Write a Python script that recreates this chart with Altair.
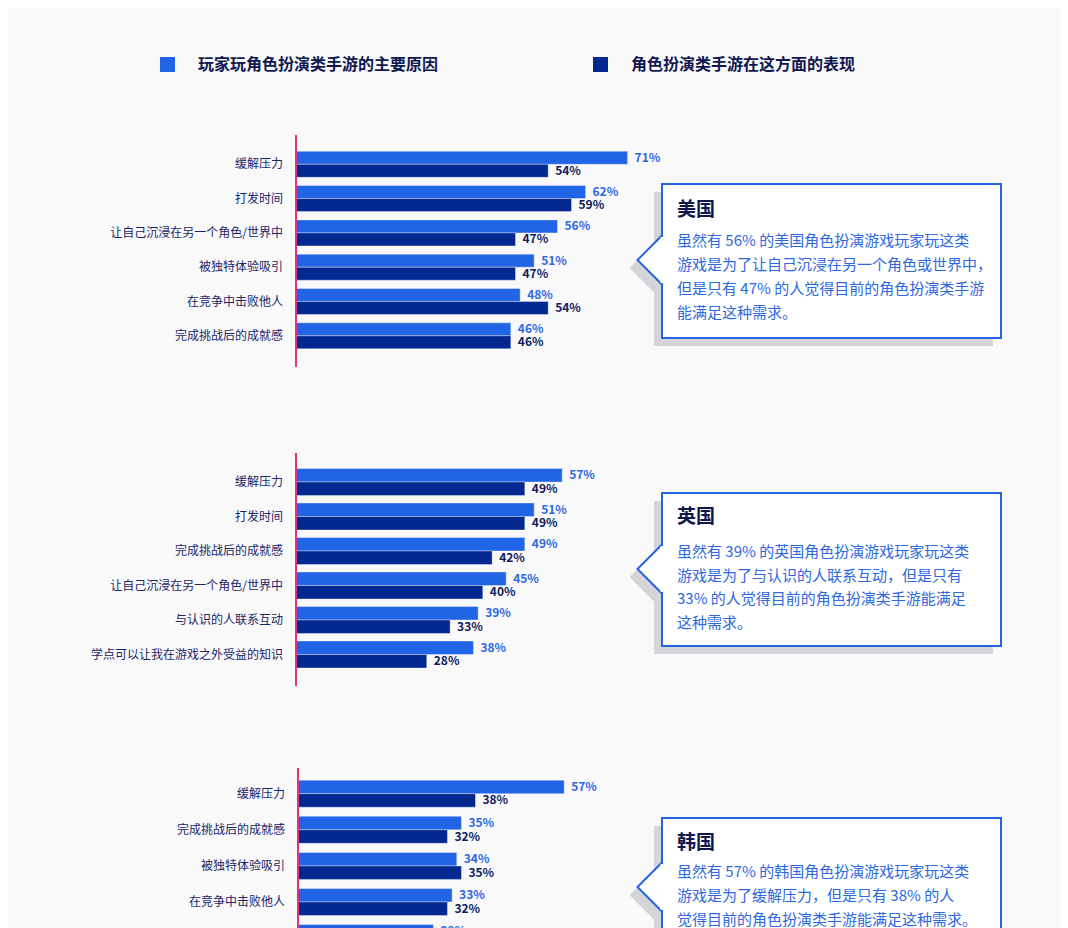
import altair as alt
import pandas as pd

FONT = "Noto Sans CJK SC"

SERIES = ["玩家玩角色扮演类手游的主要原因", "角色扮演类手游在这方面的表现"]
BAR_COLORS = ["#2264e6", "#03288f"]
VALUE_COLORS = ["#2d68e3", "#0e1b5c"]
LABEL_COLOR = "#1b2566"
TITLE_COLOR = "#0f174f"
NOTE_COLOR = "#2d68e0"
BOX_COLOR = "#2563e0"
SHADOW = "#d4d5d8"
PINK = "#e5307f"
BG = "#f9f9fa"

US_CATS = ["缓解压力", "打发时间", "让自己沉浸在另一个角色/世界中", "被独特体验吸引", "在竞争中击败他人", "完成挑战后的成就感"]
US_REASON = [71, 62, 56, 51, 48, 46]
US_PERF = [54, 59, 47, 47, 54, 46]
US_TITLE = "美国"
US_NOTE = ["虽然有 56% 的美国角色扮演游戏玩家玩这类",
           "游戏是为了让自己沉浸在另一个角色或世界中，",
           "但是只有 47% 的人觉得目前的角色扮演类手游",
           "能满足这种需求。"]

UK_CATS = ["缓解压力", "打发时间", "完成挑战后的成就感", "让自己沉浸在另一个角色/世界中", "与认识的人联系互动", "学点可以让我在游戏之外受益的知识"]
UK_REASON = [57, 51, 49, 45, 39, 38]
UK_PERF = [49, 49, 42, 40, 33, 28]
UK_TITLE = "英国"
UK_NOTE = ["虽然有 39% 的英国角色扮演游戏玩家玩这类",
           "游戏是为了与认识的人联系互动，但是只有",
           "33% 的人觉得目前的角色扮演类手游能满足",
           "这种需求。"]

KR_CATS = ["缓解压力", "完成挑战后的成就感", "被独特体验吸引", "在竞争中击败他人", "打发时间"]
KR_REASON = [57, 35, 34, 33, 29]
KR_PERF = [38, 32, 35, 32, 27]
KR_TITLE = "韩国"
KR_NOTE = ["虽然有 57% 的韩国角色扮演游戏玩家玩这类",
           "游戏是为了缓解压力，但是只有 38% 的人",
           "觉得目前的角色扮演类手游能满足这种需求。"]

W = 1052
PX_PER_PCT = 4.67


def panel(cats, reason, perf, title, note, first_c, step, bw, axis_len, zero_px,
          box_top, box_bottom, ptr_c, title_y, body_y, line_h):
    rows = []
    for c, a, b in zip(cats, reason, perf):
        rows.append({"cat": c, "series": SERIES[0], "value": a, "lab": f"{a}%", "zero": 0})
        rows.append({"cat": c, "series": SERIES[1], "value": b, "lab": f"{b}%", "zero": 0})
    df = pd.DataFrame(rows)
    n = len(cats)
    p_inner = 1 - bw / step
    p_outer = first_c / step - bw / (2 * step)
    height = step * (n - p_inner + 2 * p_outer)
    half = bw / 2

    xscale = alt.Scale(domain=[-zero_px / PX_PER_PCT, (W - zero_px) / PX_PER_PCT], nice=False, zero=False)
    yenc = alt.Y("cat:N", sort=cats, axis=None,
                 scale=alt.Scale(paddingInner=p_inner, paddingOuter=p_outer))

    base = alt.Chart(df)
    layers = []
    for i, s in enumerate(SERIES):
        off = (-half / 2) if i == 0 else (half / 2)
        sub = base.transform_filter(alt.datum.series == s)
        layers.append(sub.mark_bar(height=half, yOffset=off, color=BAR_COLORS[i],
                                   stroke="white", strokeWidth=0.8, strokeOpacity=0.45).encode(
            x=alt.X("value:Q", scale=xscale, axis=None), y=yenc))
        layers.append(sub.mark_text(align="left", baseline="middle", dx=7, yOffset=off, font=FONT,
                                    fontSize=12, fontWeight="bold", color=VALUE_COLORS[i]).encode(
            x=alt.X("value:Q", scale=xscale, axis=None), y=yenc, text="lab:N"))
    first = base.transform_filter(alt.datum.series == SERIES[0])
    layers.append(first.mark_text(
        align="right", baseline="middle", dx=-13, font=FONT, fontSize=12, color=LABEL_COLOR
    ).encode(x=alt.X("zero:Q", scale=xscale, axis=None), y=yenc, text="cat:N"))
    layers.append(first.mark_rule(color=PINK, strokeWidth=1.5).encode(
        x=alt.X("zero:Q", scale=xscale, axis=None), y=alt.value(0), y2=alt.value(axis_len)))

    one = pd.DataFrame({"t": [title]})
    bx, bx2 = 654, 993
    dsize = 49 ** 2
    layers.append(alt.Chart(one).mark_rect(fill=SHADOW).encode(
        x=alt.value(bx - 8), x2=alt.value(bx2 - 8), y=alt.value(box_top + 8), y2=alt.value(box_bottom + 8)))
    layers.append(alt.Chart(one).mark_point(shape="diamond", size=dsize, filled=True, color=SHADOW,
                                            opacity=1).encode(
        x=alt.value(bx - 8), y=alt.value(ptr_c + 8)))
    layers.append(alt.Chart(one).mark_point(shape="diamond", size=dsize, filled=False, color=BOX_COLOR,
                                            fill="white", fillOpacity=1, strokeWidth=2,
                                            opacity=1).encode(
        x=alt.value(bx), y=alt.value(ptr_c)))
    layers.append(alt.Chart(one).mark_rect(fill="white", stroke=BOX_COLOR, strokeWidth=2).encode(
        x=alt.value(bx), x2=alt.value(bx2), y=alt.value(box_top), y2=alt.value(box_bottom)))
    layers.append(alt.Chart(one).mark_rect(fill="white").encode(
        x=alt.value(bx - 1.5), x2=alt.value(bx + 2), y=alt.value(ptr_c - 23), y2=alt.value(ptr_c + 23)))
    layers.append(alt.Chart(one).mark_text(align="left", baseline="middle", font=FONT, fontSize=19,
                                           fontWeight="bold", color=TITLE_COLOR).encode(
        x=alt.value(669), y=alt.value(title_y), text="t:N"))
    for i, line in enumerate(note):
        layers.append(
            alt.Chart(pd.DataFrame({"t": [line]})).mark_text(
                align="left", baseline="middle", font=FONT, fontSize=15, color=NOTE_COLOR
            ).encode(x=alt.value(669), y=alt.value(body_y + i * line_h), text="t:N")
        )
    return alt.layer(*layers).properties(width=W, height=height)


leg_layers = []
for i, (sx, tx) in enumerate([(152, 190), (585, 623)]):
    d = pd.DataFrame({"series": [SERIES[i]]})
    leg_layers.append(alt.Chart(d).mark_rect(fill=BAR_COLORS[i]).encode(
        x=alt.value(sx), x2=alt.value(sx + 15), y=alt.value(49), y2=alt.value(64)))
    leg_layers.append(alt.Chart(d).mark_text(
        align="left", baseline="middle", font=FONT, fontSize=16, fontWeight="bold", color=TITLE_COLOR
    ).encode(x=alt.value(tx), y=alt.value(57), text="series:N"))
legend = alt.layer(*leg_layers).properties(width=W, height=126)

us = panel(US_CATS, US_REASON, US_PERF, US_TITLE, US_NOTE, 29.3, 34.3, 26, 232, 288,
           49, 203, 125, 75, 106, 24)
uk = panel(UK_CATS, UK_REASON, UK_PERF, UK_TITLE, UK_NOTE, 29, 34.5, 27, 233, 288,
           40, 193, 116, 64, 99, 23.7)
kr = panel(KR_CATS, KR_REASON, KR_PERF, KR_TITLE, KR_NOTE, 25.7, 36.1, 27, 240, 290,
           50, 182, 119, 75, 104, 24)

lower = alt.vconcat(uk, kr, spacing=80)
middle = alt.vconcat(us, lower, spacing=84)
chart = alt.vconcat(legend, middle, spacing=0).properties(
    padding=0, background=BG
).configure_view(stroke=None)

chart.save("out.html", embed_options={"renderer": "svg", "actions": False})
